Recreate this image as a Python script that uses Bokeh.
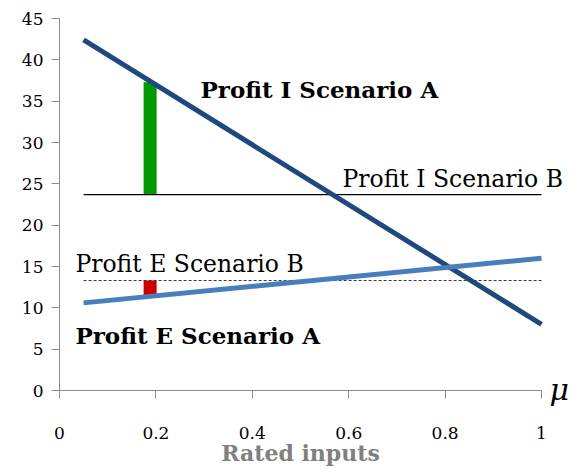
from bokeh.plotting import figure
from bokeh.models import Label, FixedTicker, Range1d
from bokeh.embed import file_html
from bokeh.resources import INLINE

# ---- data ----
x_ends = [0.05, 1.0]
profit_I_A = [42.4, 8.0]
profit_E_A = [10.6, 16.0]
profit_I_B = [23.7, 23.7]
profit_E_B = [13.3, 13.3]
gap_x = [0.188]
green_bottom = [23.7]
green_top = [37.3]
red_bottom = [11.5]
red_top = [13.3]
x_ticks = [0, 0.2, 0.4, 0.6, 0.8, 1.0]
x_tick_labels = ["0", "0.2", "0.4", "0.6", "0.8", "1"]
y_ticks = [0, 5, 10, 15, 20, 25, 30, 35, 40, 45]

FONT = "DejaVu Serif"

# the frame covers the whole canvas so that no text gets clipped;
# both axes are pinned at 0
W, H = 574, 468
LEFT, TOP = 59, 18             # pixel position of the origin's axes
PX_X, PX_Y = 482, 372          # pixels for x 0..1 and y 0..45
p = figure(frame_width=W, frame_height=H, output_backend="svg",
           toolbar_location=None,
           x_range=Range1d(-LEFT / PX_X, (W - LEFT) / PX_X),
           y_range=Range1d(45 - (H - TOP) * 45 / PX_Y, 45 + TOP * 45 / PX_Y),
           min_border_left=0, min_border_right=0, min_border_top=0,
           min_border_bottom=0)
p.outline_line_color = None
p.grid.visible = False

for ax in (p.xaxis, p.yaxis):
    ax.fixed_location = 0
    ax.axis_line_color = "#8c8c8c"
    ax.major_tick_line_color = "#8c8c8c"
    ax.minor_tick_line_color = None
    ax.major_tick_out = 8
    ax.major_tick_in = 0
    ax.major_label_text_font = FONT
    ax.major_label_text_font_size = "17px"
    ax.major_label_text_color = "black"

p.xaxis.bounds = (0, 1)
p.xaxis.ticker = FixedTicker(ticks=x_ticks)
p.xaxis.major_label_overrides = {t: l for t, l in zip(x_ticks, x_tick_labels)}
p.xaxis.major_label_standoff = 28

p.yaxis.bounds = (0, 45)
p.yaxis.ticker = FixedTicker(ticks=y_ticks)
p.yaxis.major_label_standoff = 8

p.vbar(x=gap_x, bottom=green_bottom, top=green_top, width=0.027,
       fill_color="#009900", line_color=None)
p.vbar(x=gap_x, bottom=red_bottom, top=red_top, width=0.027,
       fill_color="#cc0000", line_color=None)
p.line(x_ends, profit_I_B, line_color="black", line_width=1.2)
p.line(x_ends, profit_E_B, line_color="#333333", line_width=1, line_dash="3 2")
p.line(x_ends, profit_I_A, line_color="#1f497d", line_width=5)
p.line(x_ends, profit_E_A, line_color="#4a7ebb", line_width=5)

def lab(x, y, t, bold=False, size="23.5px", color="black", style=None, align="left"):
    p.add_layout(Label(x=x, y=y, text=t, text_font=FONT,
                       text_font_style=style or ("bold" if bold else "normal"),
                       text_font_size=size, text_color=color,
                       text_align=align, text_baseline="alphabetic"))

lab(0.2925, 36.4, "Profit I Scenario A", bold=True, size="23px")
lab(0.587, 25.6, "Profit I Scenario B")
lab(0.033, 15.25, "Profit E Scenario B")
lab(0.033, 6.7, "Profit E Scenario A", bold=True, size="23px")

# x-axis title and variable symbol
lab(0.5, -7.62, "Rated inputs", bold=True, size="22px", color="#808080", align="center")
lab(1.0166, 0.12, "μ", size="30px", style="italic")

open("out.html", "w").write(file_html(p, INLINE))
